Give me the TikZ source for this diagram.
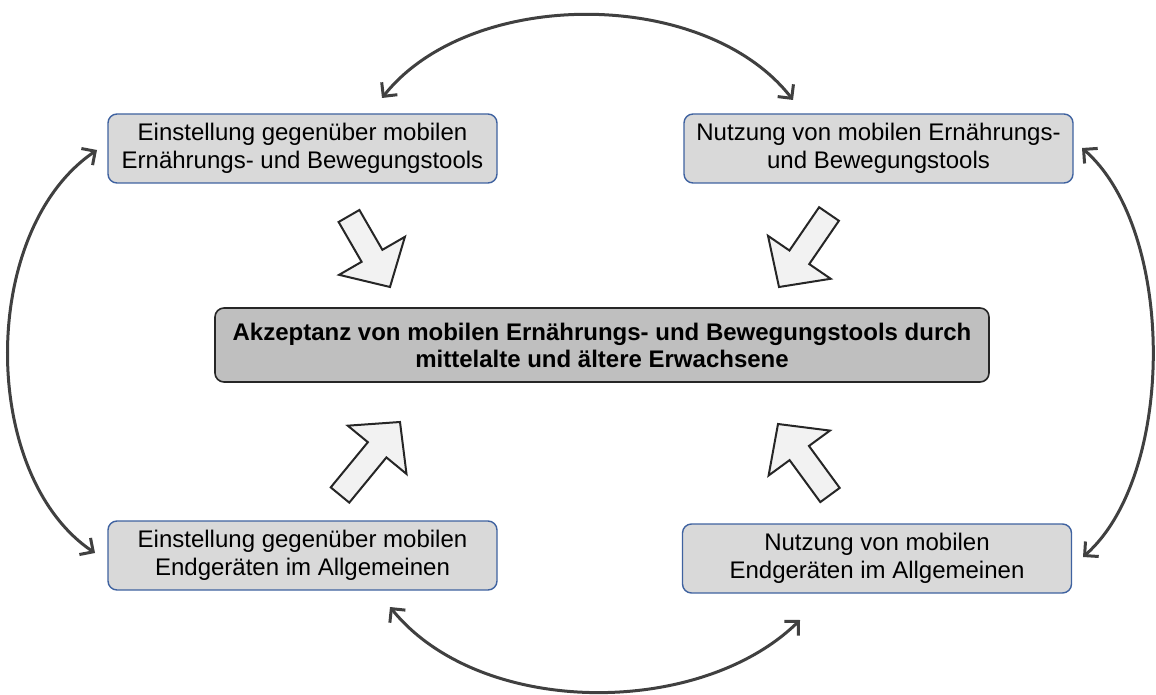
\documentclass[tikz,border=0pt]{standalone}
\usepackage{fontspec}
\setmainfont{Liberation Sans}
\usetikzlibrary{arrows.meta,calc}
\definecolor{boxfill}{HTML}{D9D9D9}
\definecolor{boxline}{HTML}{3F62A0}
\definecolor{mainfill}{HTML}{BFBFBF}
\definecolor{mainline}{HTML}{262626}
\definecolor{arcline}{HTML}{404040}
\definecolor{fatfill}{HTML}{F2F2F2}
\tikzset{
  factor/.style={draw=boxline, fill=boxfill, line width=0.7pt, rounded corners=4.5pt,
    minimum width=194.5pt, minimum height=34.5pt, align=center, inner sep=0pt,
    font=\fontsize{12}{14}\selectfont},
  target/.style={draw=mainline, fill=mainfill, line width=0.8pt, rounded corners=4.5pt,
    minimum width=387pt, minimum height=37pt, align=center, inner sep=0pt,
    font=\fontsize{12}{13.5}\selectfont\bfseries},
  link/.style={draw=arcline, line width=1.5pt,
    {Straight Barb[length=5pt,width=10pt,line width=1.5pt]}-{Straight Barb[length=5pt,width=10pt,line width=1.5pt]}},
  fatarrow/.style={draw=mainline, fill=fatfill, line width=1pt, line join=miter}
}
% block arrow from #1 (tail) to #2 (tip)
\newcommand{\blockarrow}[2]{%
  \path ($(#2)!18pt!(#1)$) coordinate (neck);
  \draw[fatarrow]
    ($(#1)!6pt!90:(#2)$) --
    ($(neck)!6pt!-90:(#1)$) --
    ($(neck)!19pt!-90:(#1)$) --
    (#2) --
    ($(neck)!19pt!90:(#1)$) --
    ($(neck)!6pt!90:(#1)$) --
    ($(#1)!6pt!-90:(#2)$) -- cycle;
}
\begin{document}
\begin{tikzpicture}[x=0.5pt,y=-0.5pt]
\useasboundingbox (0,0) rectangle (1156,695);

\node[factor] (tl) at (302.5,148.5) {Einstellung gegenüber mobilen\\Ernährungs- und Bewegungstools};
\node[factor] (tr) at (878.5,148.5) {Nutzung von mobilen Ernährungs-\\und Bewegungstools};
\node[factor] (bl) at (302.5,555.5) {Einstellung gegenüber mobilen\\Endgeräten im Allgemeinen};
\node[factor] (br) at (877,558.5) {Nutzung von mobilen\\Endgeräten im Allgemeinen};
\node[target] (c) at (602,345) {Akzeptanz von mobilen Ernährungs- und Bewegungstools durch\\mittelalte und ältere Erwachsene};

% end points of the curved links
\coordinate (tla) at (382,98);
\coordinate (tra) at (793,100);
\coordinate (trb) at (1082,148);
\coordinate (brb) at (1083,557);
\coordinate (bra) at (800,620);
\coordinate (bla) at (390,607);
\coordinate (blb) at (95,553);
\coordinate (tlb) at (97,150);

\draw[link] (tla) .. controls (470,-13) and (705,-13) .. (tra);
\draw[link] (trb) .. controls (1176,230) and (1176,475) .. (brb);
\draw[link] (bra) .. controls (700,718) and (480,718) .. (bla);
\draw[link] (blb) .. controls (-21,475) and (-21,230) .. (tlb);

% block arrows towards the central box
\coordinate (a1t) at (349,216); \coordinate (a1h) at (390,287);
\coordinate (a2t) at (829,214); \coordinate (a2h) at (779,287);
\coordinate (a3t) at (340,495); \coordinate (a3h) at (400,422);
\coordinate (a4t) at (830,495); \coordinate (a4h) at (778,424);
\blockarrow{a1t}{a1h}
\blockarrow{a2t}{a2h}
\blockarrow{a3t}{a3h}
\blockarrow{a4t}{a4h}
\end{tikzpicture}
\end{document}
